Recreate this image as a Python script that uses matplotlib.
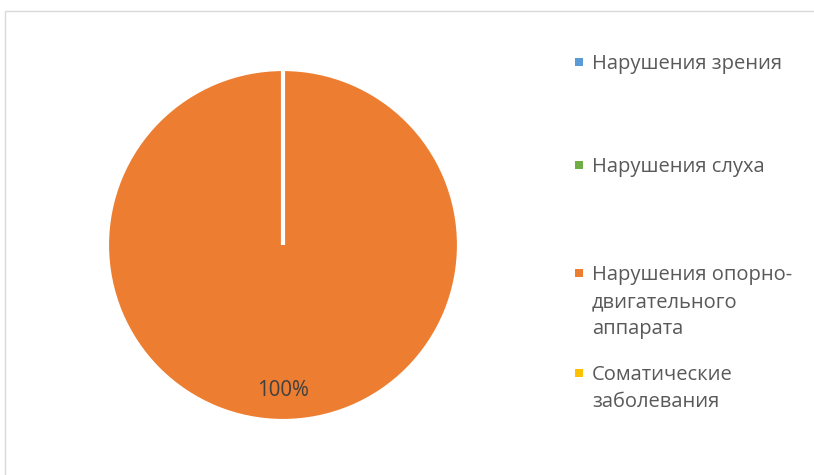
import matplotlib
matplotlib.use('Agg')
import matplotlib.pyplot as plt
from matplotlib.patches import Rectangle

# data
categories = ['Нарушения зрения', 'Нарушения слуха',
              'Нарушения опорно-\nдвигательного\nаппарата',
              'Соматические\nзаболевания']
values = [0, 0, 100, 0]
colors = ['#5B9BD5', '#70AD47', '#ED7D31', '#FFC000']

W, H = 814, 475
plt.rcParams['font.family'] = ['Open Sans', 'DejaVu Sans']

fig = plt.figure(figsize=(W / 100, H / 100), dpi=100)

# chart frame (only left and top edges visible in the crop)
fig.add_artist(Rectangle((4.5 / W, -0.1), 1.0, (H - 10.5) / H + 0.1,
                         transform=fig.transFigure, fill=False,
                         edgecolor='#D9D9D9', linewidth=1.0))

cx, cy, r = 283, 245, 176
ax = fig.add_axes([(cx - r) / W, (H - cy - r) / H, 2 * r / W, 2 * r / H])

def pct(p):
    if p > 0:
        return '%.0f%%' % p
    return ''

wedges, texts, autotexts = ax.pie(values, colors=colors, startangle=90,
                                  counterclock=False, autopct=pct,
                                  pctdistance=0.825,
                                  wedgeprops=dict(edgecolor='white', linewidth=3))
for t in autotexts:
    t.set_color('#404040')
    t.set_fontsize(14.8)
ax.set_xlim(-1, 1)
ax.set_ylim(-1, 1)

# legend, placed entry by entry like the Excel one
baselines = [69, 172, 280, 380]
line_h = 27
for lab, col, bl in zip(categories, colors, baselines):
    for i, line in enumerate(lab.split('\n')):
        fig.text(592 / W, 1 - (bl + i * line_h) / H, line, ha='left',
                 va='baseline', fontsize=14.5, color='#595959')
    s = 7.5
    fig.add_artist(Rectangle(((579 - s / 2) / W, 1 - (bl - 7 + s / 2) / H),
                             s / W, s / H, transform=fig.transFigure,
                             facecolor=col, edgecolor='none'))

fig.savefig('out.png', dpi=100)
plt.close()
